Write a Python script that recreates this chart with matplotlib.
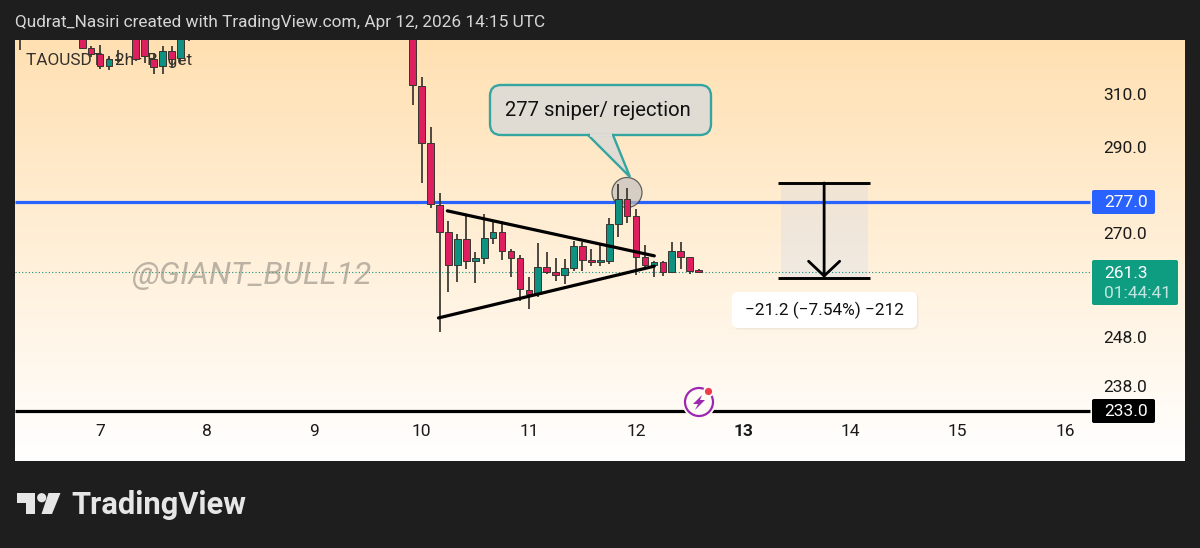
import numpy as np
import matplotlib
matplotlib.use("Agg")
import matplotlib.pyplot as plt
from matplotlib.patches import FancyBboxPatch, Polygon, Circle, Rectangle
from matplotlib.ticker import FixedLocator, FixedFormatter

plt.rcParams['font.family'] = ['Roboto', 'DejaVu Sans']

# ---------- data ----------
early_days = [6.835, 6.917, 7.0, 7.083, 7.167, 7.333, 7.417, 7.5, 7.583, 7.667, 7.75]
early_open = [335.0, 327.2, 325.0, 320.6, 322.8, 335.0, 335.0, 323.2, 320.6, 326.2, 323.5]
early_close = [327.5, 325.2, 320.6, 323.1, 322.8, 323.1, 324.3, 320.3, 326.2, 323.3, 335.0]
early_high = [340.0, 328.3, 328.4, 324.3, 326.6, 340.0, 340.0, 325.6, 328.1, 328.1, 340.0]
early_low = [326.9, 324.1, 319.4, 318.9, 322.0, 322.4, 321.9, 317.4, 317.4, 320.0, 321.6]

main_start_day = 9.9167
main_open = [340.0, 313.1, 291.5, 276.3, 270.3, 262.8, 268.6, 263.8, 264.4, 268.8, 270.2, 266.0,
             264.4, 257.7, 256.8, 262.5, 261.4, 260.7, 262.1, 267.0, 263.9, 263.6, 263.8, 272.0,
             277.6, 273.8, 264.6, 262.9, 263.6, 261.2, 266.0, 264.7, 261.8]
main_close = [313.4, 291.5, 276.5, 270.3, 262.8, 268.6, 263.8, 264.4, 268.8, 270.2, 266.0, 264.4,
              257.8, 256.8, 262.5, 261.4, 260.7, 262.1, 267.0, 263.9, 263.6, 263.9, 272.0, 277.6,
              273.9, 264.6, 262.9, 263.6, 261.2, 266.0, 264.7, 261.6, 261.3]
main_high = [345.0, 316.5, 297.5, 279.1, 272.6, 269.7, 273.8, 265.7, 274.3, 272.6, 272.8, 266.4,
             265.1, 260.3, 267.7, 265.7, 264.4, 264.1, 268.2, 268.1, 266.4, 267.3, 273.5, 281.2,
             280.2, 275.5, 267.3, 263.8, 263.8, 267.9, 267.9, 264.4, 261.9]
main_low = [305.8, 281.6, 275.6, 249.1, 257.3, 259.3, 261.9, 259.1, 263.0, 267.5, 264.0, 260.3,
            255.4, 253.7, 256.2, 260.9, 259.5, 258.8, 261.6, 261.5, 262.6, 262.6, 263.1, 269.0,
            272.2, 260.7, 262.3, 260.3, 260.5, 261.0, 261.9, 260.8, 261.2]

day_ticks = [7, 8, 9, 10, 11, 12, 13, 14, 15, 16]
price_ticks = [310.0, 290.0, 270.0, 248.0, 238.0]
price_labels = ['310.0', '290.0', '270.0', '248.0', '238.0']
resistance = 277.0
support = 233.0
last_price = 261.3

upper_trend_days = [10.24, 12.17]
upper_trend_prices = [275.0, 264.9]
lower_trend_days = [10.157, 12.17]
lower_trend_prices = [251.9, 262.6]
measure_days = [13.325, 14.183]
measure_prices = [281.5, 260.1]

# the chart's price axis is not evenly spaced: knots read from its labels
scale_price = np.array([100., 223., 233., 238., 248., 261.3, 270., 277., 290., 310., 330.4, 500.])
scale_pos = -np.array([1076., 461., 411., 386., 337., 272., 233., 202., 147., 94., 40., -409.])

UP = '#0e9180'
DOWN = '#dd1f5f'
WICK = '#38352e'
DARK = '#1e1e1e'

W, H = 1200, 548
fig = plt.figure(figsize=(W / 100, H / 100), dpi=100, facecolor=DARK)

def rect(x0, y0, x1, y1):
    return [x0 / W, 1 - y1 / H, (x1 - x0) / W, (y1 - y0) / H]

# gradient backdrop
bg = fig.add_axes(rect(15, 40, 1185, 461), zorder=0)
bg.axis('off')
c0 = np.array([255, 224, 178]) / 255
c1 = np.array([255, 255, 255]) / 255
t = np.linspace(0, 1, 256)[:, None, None]
bg.imshow(c0[None, None, :] * (1 - t) + c1[None, None, :] * t, aspect='auto')

ax = fig.add_axes(rect(15, 40, 1185, 461), zorder=1)
ax.patch.set_alpha(0)
for s in ax.spines.values():
    s.set_visible(False)

# overlay in picture pixels for labels, tags and logo
ov = fig.add_axes([0, 0, 1, 1], zorder=3)
ov.set_xlim(0, W)
ov.set_ylim(H, 0)
ov.axis('off')
ov.patch.set_alpha(0)

ax.set_yscale('function', functions=(lambda p: np.interp(p, scale_price, scale_pos),
                                     lambda q: np.interp(q, scale_pos, scale_price)))
ax.set_xlim(6.207, 17.12)
ax.set_ylim(223.0, 330.4)

ax.yaxis.set_major_locator(FixedLocator(price_ticks))
ax.yaxis.set_major_formatter(FixedFormatter(price_labels))
ax.yaxis.set_minor_locator(FixedLocator([]))
ax.yaxis.tick_right()
ax.tick_params(axis='y', length=0, pad=-58.5, labelsize=12.5, labelcolor='#1a1a1a')
for lb in ax.get_yticklabels():
    lb.set_ha('left')
ax.set_xticks(day_ticks)
ax.set_xticklabels([str(d) for d in day_ticks])
ax.tick_params(axis='x', length=0, pad=-27, labelsize=12.5, labelcolor='#1a1a1a')
for lb in ax.get_xticklabels():
    if lb.get_text() == '13':
        lb.set_fontweight('bold')

# horizontal levels
line_end = 16.235
ax.hlines(resistance, 6.207, line_end, color='#2962ff', lw=2.3, zorder=2)
ax.hlines(support, 6.207, line_end, color='#000000', lw=2.3, zorder=2)
ax.hlines(last_price, 6.207, line_end, color=UP, lw=0.8, linestyles=(0, (1, 2)), zorder=2)

# texts and circle that sit beneath the candles
ax.text(26, 61, 'TAOUSDT · 2h · Bitget', color='#1e1e1e', fontsize=12.4, va='center', ha='left',
        alpha=0.9, transform=ov.transData, zorder=2.5)
ax.text(132, 276, '@GIANT_BULL12', color='#8f8a80', alpha=0.6, fontsize=23, style='italic',
        va='center', ha='left', transform=ov.transData, zorder=2.5)
ax.add_patch(Circle((627, 192.5), 15, fc='#c4c2c0', alpha=0.7, ec='#2a2a2a', lw=0.9,
                    transform=ov.transData, zorder=2.6))

# candles
days = list(early_days) + [main_start_day + i / 12 for i in range(len(main_open))]
opens = early_open + main_open
closes = early_close + main_close
highs = early_high + main_high
lows = early_low + main_low
for d, o, c, h, l in zip(days, opens, closes, highs, lows):
    col = UP if c >= o else DOWN
    ax.vlines(d, l, h, color=WICK, lw=1.25, zorder=3)
    ax.bar(d, max(abs(c - o), 0.25), bottom=min(o, c), width=0.062, color=col,
           edgecolor=WICK, linewidth=0.7, zorder=4)
ax.vlines(6.25, 326.6, 340, color=WICK, lw=1.25, zorder=3)
ax.vlines(7.833, 330, 340, color=WICK, lw=1.25, zorder=3)

# triangle
ax.plot(upper_trend_days, upper_trend_prices, color='black', lw=2.3, zorder=5, solid_capstyle='round')
ax.plot(lower_trend_days, lower_trend_prices, color='black', lw=2.3, zorder=5, solid_capstyle='round')

# measure tool
ax.fill_between([13.35, 14.165], measure_prices[1], measure_prices[0], color='#9bc1ff', alpha=0.15, lw=0, zorder=1.5)
ax.hlines(measure_prices, measure_days[0], measure_days[1], color='black', lw=2.1, zorder=5)
mid = sum(measure_days) / 2
ax.annotate('', xy=(mid, measure_prices[1]), xytext=(mid, measure_prices[0]), zorder=5,
            arrowprops=dict(arrowstyle='->,head_length=1.06,head_width=1.12', color='black', lw=2.0,
                            shrinkA=0, shrinkB=0))

def rbox(x0, y0, x1, y1, r=3, **kw):
    p = FancyBboxPatch((x0 + r, y0 + r), x1 - x0 - 2 * r, y1 - y0 - 2 * r,
                       boxstyle=f'round,pad={r},rounding_size={r}', **kw)
    ov.add_patch(p)
    return p

ov.text(15, 22, 'Qudrat_Nasiri created with TradingView.com, Apr 12, 2026 14:15 UTC',
        color='#d6d6d6', fontsize=12.45, va='center', ha='left')

# callout
TEAL = '#35a5a2'
FILL = '#e0dcd4'
rbox(490, 85, 711, 135, r=11, fc=FILL, ec=TEAL, lw=1.7, zorder=3)
ov.add_patch(Polygon([(588, 135), (630, 177), (613, 135)], closed=True, fc=FILL, ec=TEAL, lw=1.7, zorder=4))
ov.plot([590, 611.5], [134.5, 134.5], color=FILL, lw=2.6, zorder=5, solid_capstyle='butt')
ov.text(598, 110, '277 sniper/ rejection', color='#111111', fontsize=14.6, ha='center', va='center', zorder=6)

# measure label
rbox(733, 293.5, 918.5, 329.5, r=6, fc='#000000', alpha=0.05, ec='none', zorder=3)
rbox(732, 292, 917, 328, r=6, fc='white', ec='none', zorder=3)
ov.text(824.5, 310.5, '\u221221.2 (\u22127.54%) \u2212212', color='#111111', fontsize=12.4, ha='center',
        va='center', zorder=4)

# price tags
rbox(1092, 190, 1155, 214, r=2, fc='#2962ff', ec='none', zorder=3)
ov.text(1104, 202.5, '277.0', color='white', fontsize=12.5, va='center', ha='left', zorder=4)
rbox(1092, 399, 1155, 423, r=2, fc='#000000', ec='none', zorder=3)
ov.text(1104, 411.5, '233.0', color='white', fontsize=12.5, va='center', ha='left', zorder=4)
rbox(1092, 260, 1178, 305, r=2, fc='#0f9d82', ec='none', zorder=3)
ov.text(1104, 273, '261.3', color='white', fontsize=12.5, va='center', ha='left', zorder=4)
ov.text(1104, 294, '01:44:41', color='white', alpha=0.75, fontsize=12.5, va='center', ha='left', zorder=4)

# lightning badge
ov.add_patch(Circle((699, 402), 17, fc='#fffbf5', ec='none', zorder=3))
ov.add_patch(Circle((699, 402), 14, fc='none', ec='#9c27b0', lw=1.6, zorder=4))
ov.add_patch(Circle((708.5, 391.5), 5.5, fc='#fffbf5', ec='none', zorder=4))
ov.add_patch(Circle((708.5, 391.5), 3.6, fc='#ef3b4a', ec='none', zorder=5))
ov.add_patch(Polygon([(702, 395), (693, 404), (698, 404), (695, 410), (705, 400), (700, 400)],
                     fc='#9c27b0', ec='none', zorder=5))

# TradingView logo
LOGO = '#e6e6e6'
ov.add_patch(Polygon([(17, 493), (35, 493), (35, 514), (26, 514), (26, 503), (17, 503)], fc=LOGO, ec='none'))
ov.add_patch(Circle((41.7, 497.7), 4.6, fc=LOGO, ec='none'))
ov.add_patch(Polygon([(48.5, 493), (60.5, 493), (52, 514), (41.5, 514)], fc=LOGO, ec='none'))
ov.text(71, 514, 'TradingView', color=LOGO, fontsize=22.2, fontweight='bold', va='baseline', ha='left')

fig.savefig('out.png', dpi=100, facecolor=DARK)
